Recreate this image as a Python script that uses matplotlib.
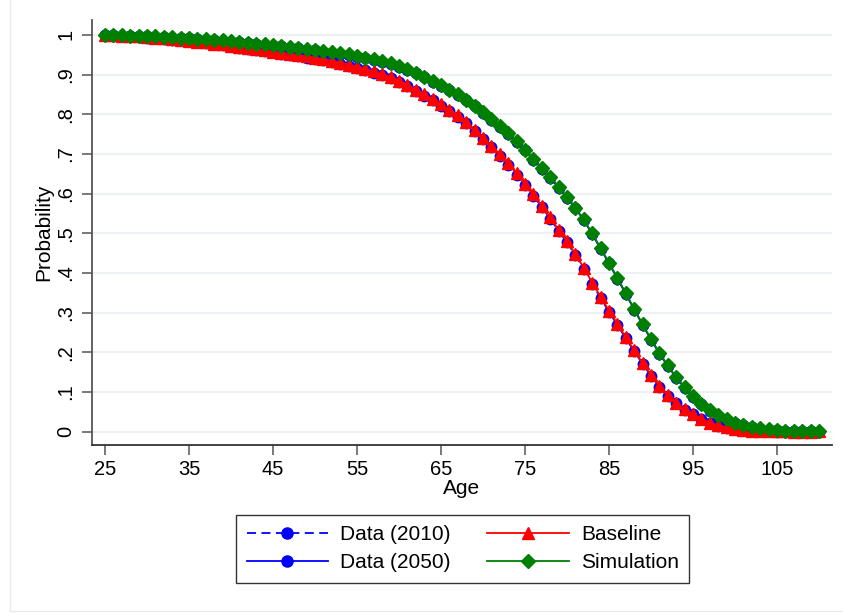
import numpy as np
import matplotlib
matplotlib.use("Agg")
import matplotlib.pyplot as plt
from matplotlib.lines import Line2D

plt.rcParams["font.family"] = ["Liberation Sans", "DejaVu Sans"]

ages = list(range(25, 111))

data_2010 = [
    0.999, 0.998, 0.997, 0.996, 0.995, 0.993, 0.992, 0.990, 0.988, 0.986,
    0.984, 0.981, 0.979, 0.976, 0.974, 0.971, 0.968, 0.965, 0.962, 0.959,
    0.956, 0.953, 0.949, 0.946, 0.943, 0.940, 0.936, 0.932, 0.927, 0.922,
    0.917, 0.911, 0.905, 0.898, 0.891, 0.882, 0.871, 0.859, 0.847, 0.835,
    0.822, 0.809, 0.794, 0.777, 0.757, 0.737, 0.717, 0.696, 0.673, 0.648,
    0.621, 0.595, 0.566, 0.537, 0.506, 0.477, 0.445, 0.410, 0.373, 0.337,
    0.302, 0.269, 0.235, 0.203, 0.171, 0.141, 0.114, 0.091, 0.072, 0.056,
    0.044, 0.032, 0.022, 0.015, 0.010, 0.006, 0.004, 0.002, 0.001, 0.001,
    0.000, 0.000, 0.000, 0.000, 0.000, 0.000,
]

data_2050 = [
    0.999, 0.999, 0.998, 0.997, 0.997, 0.996, 0.995, 0.994, 0.993, 0.992,
    0.991, 0.989, 0.988, 0.986, 0.985, 0.983, 0.981, 0.979, 0.977, 0.975,
    0.973, 0.971, 0.968, 0.966, 0.963, 0.961, 0.958, 0.955, 0.952, 0.949,
    0.945, 0.941, 0.937, 0.932, 0.926, 0.920, 0.912, 0.903, 0.893, 0.882,
    0.871, 0.860, 0.848, 0.835, 0.820, 0.803, 0.786, 0.769, 0.750, 0.730,
    0.709, 0.686, 0.663, 0.640, 0.615, 0.590, 0.563, 0.533, 0.498, 0.461,
    0.424, 0.386, 0.347, 0.308, 0.269, 0.232, 0.197, 0.165, 0.136, 0.111,
    0.088, 0.069, 0.053, 0.040, 0.030, 0.022, 0.016, 0.011, 0.008, 0.005,
    0.004, 0.003, 0.002, 0.001, 0.001, 0.000,
]

baseline = [
    1.000, 0.999, 0.998, 0.997, 0.996, 0.994, 0.993, 0.991, 0.989, 0.987,
    0.985, 0.983, 0.981, 0.978, 0.976, 0.973, 0.970, 0.967, 0.964, 0.961,
    0.958, 0.955, 0.952, 0.949, 0.946, 0.943, 0.939, 0.935, 0.930, 0.925,
    0.920, 0.914, 0.908, 0.901, 0.894, 0.885, 0.874, 0.862, 0.850, 0.838,
    0.825, 0.812, 0.797, 0.780, 0.760, 0.740, 0.720, 0.699, 0.676, 0.651,
    0.624, 0.598, 0.569, 0.540, 0.509, 0.480, 0.448, 0.413, 0.376, 0.340,
    0.305, 0.272, 0.238, 0.205, 0.173, 0.143, 0.116, 0.093, 0.073, 0.057,
    0.045, 0.033, 0.023, 0.016, 0.011, 0.007, 0.005, 0.003, 0.002, 0.001,
    0.001, 0.001, 0.000, 0.000, 0.000, 0.002,
]

simulation = [
    1.000, 0.999, 0.999, 0.998, 0.998, 0.997, 0.996, 0.995, 0.994, 0.993,
    0.992, 0.990, 0.989, 0.987, 0.986, 0.984, 0.982, 0.980, 0.978, 0.976,
    0.974, 0.972, 0.970, 0.968, 0.965, 0.963, 0.960, 0.957, 0.954, 0.951,
    0.947, 0.943, 0.939, 0.934, 0.928, 0.922, 0.914, 0.905, 0.895, 0.884,
    0.873, 0.862, 0.850, 0.837, 0.822, 0.805, 0.788, 0.771, 0.752, 0.732,
    0.711, 0.688, 0.665, 0.642, 0.617, 0.592, 0.565, 0.535, 0.500, 0.463,
    0.426, 0.388, 0.349, 0.310, 0.271, 0.234, 0.199, 0.167, 0.138, 0.112,
    0.089, 0.070, 0.054, 0.041, 0.031, 0.023, 0.017, 0.012, 0.009, 0.006,
    0.004, 0.003, 0.002, 0.002, 0.001, 0.001,
]

x_ticks = [25, 35, 45, 55, 65, 75, 85, 95, 105]
y_ticks = [0, 0.1, 0.2, 0.3, 0.4, 0.5, 0.6, 0.7, 0.8, 0.9, 1.0]
y_labels = ["0", ".1", ".2", ".3", ".4", ".5", ".6", ".7", ".8", ".9", "1"]

BLUE = "#0000ff"
RED = "#ff0000"
GREEN = "#008000"
GRID = "#eaf0f2"


def main():
    fig = plt.figure(figsize=(8.43, 6.13), dpi=100)
    ax = fig.add_axes([0.109, 0.274, 0.878, 0.693])

    ax.plot(ages, data_2010, color=BLUE, lw=1.3, ls=(0, (5, 3)),
            marker="o", ms=7.5, label="Data (2010)", zorder=3)
    ax.plot(ages, data_2050, color=BLUE, lw=1.3, ls="-",
            marker="o", ms=7.5, label="Data (2050)", zorder=3)
    ax.plot(ages, baseline, color=RED, lw=1.3, marker="^", ms=9,
            label="Baseline", zorder=4)
    ax.plot(ages, simulation, color=GREEN, lw=1.3, marker="D", ms=7.5,
            label="Simulation", zorder=5)

    ax.set_xlim(23.45, 111.55)
    ax.set_ylim(-0.0335, 1.037)
    ax.set_xticks(x_ticks)
    ax.set_yticks(y_ticks)
    ax.set_yticklabels(y_labels, rotation=90, va="center")
    ax.tick_params(axis="both", labelsize=14.5, length=7, width=1.1,
                   color="#555555", direction="out")
    ax.tick_params(axis="y", pad=5)
    ax.grid(axis="y", color=GRID, lw=1.3)
    ax.set_axisbelow(True)

    for side in ["top", "right"]:
        ax.spines[side].set_visible(False)
    ax.spines["left"].set_color("#555555")
    ax.spines["bottom"].set_color("#333333")
    ax.spines["left"].set_linewidth(1.3)
    ax.spines["bottom"].set_linewidth(1.3)

    ax.set_xlabel("Age", fontsize=15, labelpad=0)
    ax.set_ylabel("Probability", fontsize=15, labelpad=2)

    handles = [
        Line2D([], [], color=BLUE, lw=1.3, ls=(0, (5, 3)), marker="o", ms=8),
        Line2D([], [], color=BLUE, lw=1.3, marker="o", ms=8),
        Line2D([], [], color=RED, lw=1.3, marker="^", ms=9),
        Line2D([], [], color=GREEN, lw=1.3, marker="D", ms=7.5),
    ]
    labels = ["Data (2010)", "Data (2050)", "Baseline", "Simulation"]
    leg = fig.legend(handles, labels, loc="center", bbox_to_anchor=(0.549, 0.105),
                     ncol=2, fontsize=15, frameon=True, fancybox=False,
                     edgecolor="black", handlelength=3.9, handletextpad=0.6,
                     columnspacing=1.75, borderpad=0.5, labelspacing=0.45,
                     borderaxespad=0)
    leg.get_frame().set_linewidth(1.0)

    # faint outer graph region border
    fig.add_artist(Line2D([0.012, 0.012], [0.003, 1.0], color="#e6edf0", lw=1.0))
    fig.add_artist(Line2D([0.012, 1.0], [0.003, 0.003], color="#e6edf0", lw=1.0))

    fig.savefig("out.png", dpi=100, facecolor="white")
    plt.close(fig)


if __name__ == "__main__":
    main()
